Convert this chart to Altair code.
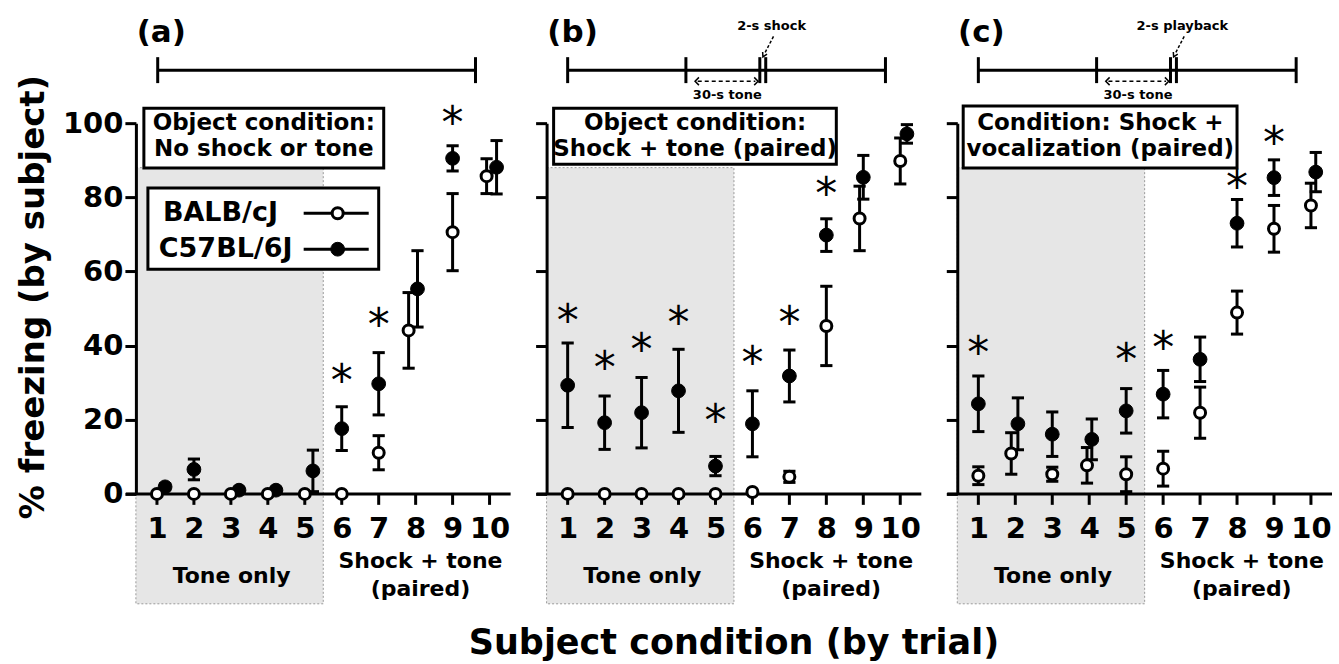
import altair as alt
import pandas as pd

FONT = "DejaVu Sans"
TRIALS = [1, 2, 3, 4, 5, 6, 7, 8, 9, 10]
Y_TICKS = [0, 20, 40, 60, 80, 100]

# ---------------- data (mean % freezing, SEM) ----------------
# (a) Object condition: no shock or tone
A_BALB = [0, 0, 0, 0, 0, 0, 11.1, 44.1, 70.6, 85.7]
A_BALB_SEM = [0, 0, 0, 0, 0, 0, 4.6, 10.2, 10.4, 4.7]
A_C57 = [1.9, 6.6, 1.0, 1.0, 6.2, 17.6, 29.7, 55.3, 90.5, 88.1]
A_C57_SEM = [0.8, 2.8, 0.6, 0.6, 5.6, 5.9, 8.4, 10.3, 3.4, 7.2]
A_BALB_DODGE = [0, 0, 0, 0, 0, 0, 0, -0.19, 0, -0.08]
A_C57_DODGE = [0.22, 0, 0.22, 0.22, 0.22, 0, 0, 0.05, 0, 0.19]
A_STAR_T = [6, 7, 9]
A_STAR_Y = [31.4, 46.6, 101]

# (b) Object condition: shock + tone (paired)
B_BALB = [0, 0, 0, 0, 0, 0.5, 4.6, 45.3, 74.3, 89.8]
B_BALB_SEM = [0, 0, 0, 0, 0, 0, 1.5, 10.7, 8.7, 6.2]
B_C57 = [29.3, 19.2, 21.9, 27.8, 7.5, 18.9, 31.8, 69.8, 85.4, 97.1]
B_C57_SEM = [11.4, 7.2, 9.5, 11.2, 2.6, 8.9, 7.0, 4.4, 5.9, 2.5]
B_BALB_DODGE = [0, 0, 0, 0, 0, 0, 0, 0, -0.1, 0]
B_C57_DODGE = [0, 0, 0, 0, 0, 0, 0, 0, 0, 0.18]
B_STAR_T = [1, 2, 3, 4, 5, 6, 7, 8]
B_STAR_Y = [47.7, 35.0, 39.9, 47.1, 20.6, 36.3, 47.1, 81.9]

# (c) Condition: shock + vocalization (paired)
C_BALB = [4.9, 10.9, 5.3, 7.7, 5.3, 6.8, 21.9, 48.9, 71.5, 77.8]
C_BALB_SEM = [2.4, 5.6, 1.9, 4.8, 4.7, 4.7, 6.9, 5.8, 6.3, 6.0]
C_C57 = [24.3, 18.9, 16.1, 14.7, 22.4, 26.9, 36.3, 73.0, 85.3, 86.8]
C_C57_SEM = [7.5, 7.0, 6.0, 5.5, 6.0, 6.4, 6.0, 6.4, 4.8, 5.3]
C_BALB_DODGE = [0, -0.11, 0, -0.06, 0, 0, 0, 0, 0, 0]
C_C57_DODGE = [0, 0.07, 0, 0.07, 0, 0, 0, 0, 0, 0.13]
C_STAR_T = [1, 5, 6, 8, 9]
C_STAR_Y = [39.0, 37.2, 40.3, 83.9, 95.6]

PANEL_LABELS = ["(a)", "(b)", "(c)"]
BOX_LINES = [
    ["Object condition:", "No shock or tone"],
    ["Object condition:", "Shock + tone (paired)"],
    ["Condition: Shock +", "vocalization (paired)"],
]
EVENT_TEXT = [None, "2-s shock", "2-s playback"]
STRAINS = ["BALB/cJ", "C57BL/6J"]
TONE_LABEL = "Tone only"
PAIRED_LABEL = ["Shock + tone", "(paired)"]
TONE_TEXT = "30-s tone"
Y_TITLE = "% freezing (by subject)"
X_TITLE = "Subject condition (by trial)"

# ---------------- layout constants (scale units) ----------------
XS = alt.Scale(domain=[0.43, 10.57], nice=False, zero=False)
YS = alt.Scale(domain=[0, 100], nice=False, zero=False)
TL_A = [1.02, 9.62]
TL_BC = [1.0, 4.2, 6.2, 6.36, 9.6]


def make_panel(i, balb, balb_sem, c57, c57_sem, bd, cd, star_t, star_y):
    xax = alt.Axis(values=TRIALS, ticks=False, tickSize=0, domain=False, grid=False,
                   title=None, labelFont=FONT, labelFontSize=29, labelFontWeight="bold",
                   labelColor="black", labelPadding=21, labelFlush=False,
                   labelOverlap=False, format="d", zindex=1)
    yax = alt.Axis(values=Y_TICKS, domain=True, domainWidth=3, domainColor="black",
                   ticks=True, tickSize=11, tickWidth=3, tickColor="black",
                   labels=(i == 0), labelFont=FONT, labelFontSize=29,
                   labelFontWeight="bold", labelColor="black", labelPadding=2,
                   grid=False, title=None, zindex=1)

    def X(f="x"):
        return alt.X(f"{f}:Q", scale=XS, axis=xax)

    def Y(f="y"):
        return alt.Y(f"{f}:Q", scale=YS, axis=yax)

    def text_layer(rows, size, weight="bold", align="center", angle=0, dy=0):
        df = pd.DataFrame(rows, columns=["x", "y", "t"])
        return alt.Chart(df).mark_text(font=FONT, fontSize=size, fontWeight=weight,
                                       align=align, baseline="middle", color="black",
                                       angle=angle, dy=dy).encode(x=X(), y=Y(), text="t:N")

    layers = []
    # shaded "tone only" region
    layers.append(alt.Chart(pd.DataFrame({"x": [0.43], "x2": [5.5], "y": [-29.65], "y2": [88]}))
                  .mark_rect(fill="#e6e6e6", stroke="#9a9a9a", strokeWidth=1, strokeDash=[2, 2])
                  .encode(x=X(), x2="x2:Q", y=Y(), y2="y2:Q"))
    # x axis line and ticks
    layers.append(alt.Chart(pd.DataFrame({"x": [0.16], "x2": [10.57], "y": [0]}))
                  .mark_rule(strokeWidth=3, color="black").encode(x=X(), x2="x2:Q", y=Y()))
    layers.append(alt.Chart(pd.DataFrame({"x": TRIALS, "y": [0] * 10, "y2": [-2.96] * 10}))
                  .mark_rule(strokeWidth=3, color="black").encode(x=X(), y=Y(), y2="y2:Q"))
    # timeline
    tl = TL_A if i == 0 else TL_BC
    layers.append(alt.Chart(pd.DataFrame({"x": [tl[0]], "x2": [tl[-1]], "y": [114.3]}))
                  .mark_rule(strokeWidth=3, color="black").encode(x=X(), x2="x2:Q", y=Y()))
    layers.append(alt.Chart(pd.DataFrame({"x": tl, "y": [110.8] * len(tl), "y2": [117.8] * len(tl)}))
                  .mark_rule(strokeWidth=3, color="black").encode(x=X(), y=Y(), y2="y2:Q"))
    if i > 0:
        layers.append(alt.Chart(pd.DataFrame({"x": [4.52], "x2": [6.08], "y": [111.3]}))
                      .mark_rule(strokeWidth=1.5, color="black", strokeDash=[4, 3])
                      .encode(x=X(), x2="x2:Q", y=Y()))
        layers.append(alt.Chart(pd.DataFrame({"x": [4.50], "y": [111.3]}))
                      .mark_point(shape="M0.5,-1L-0.5,0L0.5,1", size=60, filled=False,
                                  stroke="black", strokeWidth=1.5, opacity=1)
                      .encode(x=X(), y=Y()))
        layers.append(alt.Chart(pd.DataFrame({"x": [6.10], "y": [111.3]}))
                      .mark_point(shape="M-0.5,-1L0.5,0L-0.5,1", size=60, filled=False,
                                  stroke="black", strokeWidth=1.5, opacity=1)
                      .encode(x=X(), y=Y()))
        layers.append(alt.Chart(pd.DataFrame({"x": [6.57], "x2": [6.32], "y": [123.4], "y2": [118.6]}))
                      .mark_rule(strokeWidth=1.5, color="black", strokeDash=[3, 2])
                      .encode(x=X(), x2="x2:Q", y=Y(), y2="y2:Q"))
        layers.append(alt.Chart(pd.DataFrame({"x": [6.31], "y": [118.4]}))
                      .mark_point(shape="M-0.7,-0.6L0,0.6L0.7,-0.6", size=50, filled=False,
                                  stroke="black", strokeWidth=1.5, opacity=1, angle=27)
                      .encode(x=X(), y=Y()))
        layers.append(text_layer([[6.52, 126.2, EVENT_TEXT[i]], [5.32, 107.7, TONE_TEXT]], 13))

    def series(vals, sems, dodge, filled):
        xs = [t + d for t, d in zip(TRIALS, dodge)]
        df = pd.DataFrame({"x": xs, "y": vals,
                           "lo": [v - s for v, s in zip(vals, sems)],
                           "hi": [v + s for v, s in zip(vals, sems)],
                           "sem": sems})
        eb = df[df["sem"] > 0].copy()
        out = []
        out.append(alt.Chart(eb).mark_rule(strokeWidth=3, color="black")
                   .encode(x=X(), y=Y("lo"), y2="hi:Q"))
        caps = pd.concat([
            pd.DataFrame({"x": eb["x"] - 0.165, "x2": eb["x"] + 0.165, "y": eb["lo"]}),
            pd.DataFrame({"x": eb["x"] - 0.165, "x2": eb["x"] + 0.165, "y": eb["hi"]}),
        ])
        out.append(alt.Chart(caps).mark_rule(strokeWidth=3, color="black")
                   .encode(x=X(), x2="x2:Q", y=Y()))
        if filled:
            out.append(alt.Chart(df).mark_point(shape="circle", filled=True, fill="black",
                                                stroke="black", strokeWidth=1, size=190, opacity=1)
                       .encode(x=X(), y=Y()))
        else:
            out.append(alt.Chart(df).mark_point(shape="circle", filled=True, fill="white",
                                                stroke="black", strokeWidth=3, size=121, opacity=1)
                       .encode(x=X(), y=Y()))
        return out

    layers += series(c57, c57_sem, cd, True)
    layers += series(balb, balb_sem, bd, False)

    # significance asterisks
    layers.append(text_layer([[t, y, "*"] for t, y in zip(star_t, star_y)], 44,
                             weight="normal", dy=6))

    # condition box
    boxes = [(0.646, 7.136, 104.0, 87.9, 3.89), (0.62, 8.27, 104.0, 88.9, 4.45),
             (0.59, 8.0, 104.6, 87.9, 4.30)]
    bx, bx2, by, by2, cx = boxes[i]
    layers.append(alt.Chart(pd.DataFrame({"x": [bx], "x2": [bx2], "y": [by], "y2": [by2]}))
                  .mark_rect(fill="white", stroke="black", strokeWidth=3)
                  .encode(x=X(), x2="x2:Q", y=Y(), y2="y2:Q"))
    layers.append(text_layer([[cx, 100.1, BOX_LINES[i][0]], [cx, 93.0, BOX_LINES[i][1]]], 23))

    if i == 0:
        layers.append(alt.Chart(pd.DataFrame({"x": [0.755], "x2": [7.0], "y": [82.5], "y2": [60.6]}))
                      .mark_rect(fill="white", stroke="black", strokeWidth=3)
                      .encode(x=X(), x2="x2:Q", y=Y(), y2="y2:Q"))
        layers.append(alt.Chart(pd.DataFrame({"x": [4.97, 4.97], "x2": [6.73, 6.73], "y": [75.7, 66.0]}))
                      .mark_rule(strokeWidth=3, color="black").encode(x=X(), x2="x2:Q", y=Y()))
        layers.append(alt.Chart(pd.DataFrame({"x": [5.89], "y": [66.0]}))
                      .mark_point(shape="circle", filled=True, fill="black", stroke="black",
                                  strokeWidth=1, size=190, opacity=1).encode(x=X(), y=Y()))
        layers.append(alt.Chart(pd.DataFrame({"x": [5.89], "y": [75.7]}))
                      .mark_point(shape="circle", filled=True, fill="white", stroke="black",
                                  strokeWidth=3, size=121, opacity=1).encode(x=X(), y=Y()))
        layers.append(text_layer([[1.16, 75.7, STRAINS[0]], [1.05, 66.0, STRAINS[1]]], 27,
                                 align="left"))
        layers.append(text_layer([[-2.33, 53.1, Y_TITLE]], 34, angle=270))

    # panel letter
    layers.append(text_layer([[0.45, 124.3, PANEL_LABELS[i]]], 31, align="left"))
    # phase labels under the axis
    layers.append(text_layer([[3.02, -22.1, TONE_LABEL]], 22))
    layers.append(text_layer([[8.13, -18.06, PAIRED_LABEL[0]], [8.13, -25.6, PAIRED_LABEL[1]]], 22))
    if i == 1:
        layers.append(text_layer([[5.5, -40.2, X_TITLE]], 35))

    return alt.layer(*layers).properties(width=375, height=371)


pa = make_panel(0, A_BALB, A_BALB_SEM, A_C57, A_C57_SEM, A_BALB_DODGE, A_C57_DODGE, A_STAR_T, A_STAR_Y)
pb = make_panel(1, B_BALB, B_BALB_SEM, B_C57, B_C57_SEM, B_BALB_DODGE, B_C57_DODGE, B_STAR_T, B_STAR_Y)
pc = make_panel(2, C_BALB, C_BALB_SEM, C_C57, C_C57_SEM, C_BALB_DODGE, C_C57_DODGE, C_STAR_T, C_STAR_Y)

chart = (alt.hconcat(pa, pb, pc, spacing=36, bounds="flush")
         .properties(padding={"left": 16, "top": 16, "right": 5, "bottom": 0},
                     background="white")
         .configure_view(stroke=None))

chart.save("out.html", embed_options={"renderer": "svg", "actions": False})
